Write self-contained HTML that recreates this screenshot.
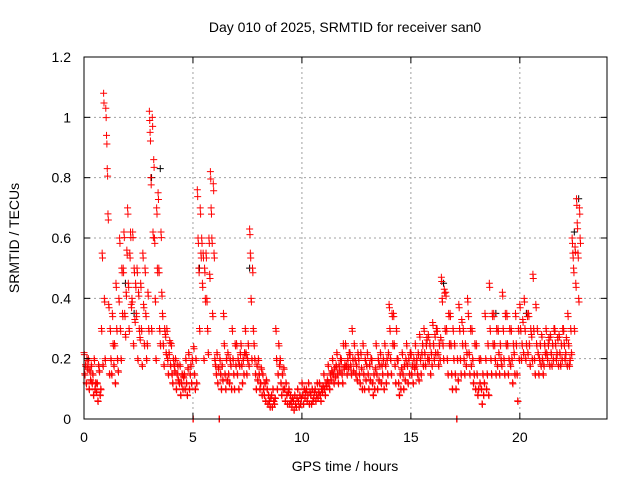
<!DOCTYPE html>
<html><head><meta charset="utf-8"><style>
html,body{margin:0;padding:0;background:#fff;}
svg{display:block;font-family:"Liberation Sans",sans-serif;}
</style></head><body>
<svg id="chart" width="640" height="480" viewBox="0 0 640 480">
<rect width="640" height="480" fill="#fff"/>
<g id="grid"></g>
<g id="points"></g>
<rect x="84" y="57" width="523" height="362" fill="none" stroke="#000" stroke-width="1"/>
<g id="axes"></g>
<text x="345" y="32" font-size="14" text-anchor="middle">Day 010 of 2025, SRMTID for receiver san0</text>
<text x="345" y="471" font-size="14" text-anchor="middle">GPS time / hours</text>
<text x="19" y="238" font-size="14" text-anchor="middle" transform="rotate(-90 19 238)">SRMTID / TECUs</text>
</svg>
<script>
const xTicks=[0,5,10,15,20];
const yTicks=[0,0.2,0.4,0.6,0.8,1,1.2];
const yTickLabels=["0","0.2","0.4","0.6","0.8","1","1.2"];
const binStart=[0.0,0.2,0.4,0.6,0.8,1.0,1.2,1.4,1.6,1.8,2.0,2.2,2.4,2.6,2.8,3.0,3.2,3.4,3.6,3.8,4.0,4.2,4.4,4.6,4.8,5.0,5.2,5.4,5.6,5.8,6.0,6.2,6.4,6.6,6.8,7.0,7.2,7.4,7.6,7.8,8.0,8.2,8.4,8.6,8.8,9.0,9.2,9.4,9.6,9.8,10.0,10.2,10.4,10.6,10.8,11.0,11.2,11.4,11.6,11.8,12.0,12.2,12.4,12.6,12.8,13.0,13.2,13.4,13.6,13.8,14.0,14.2,14.4,14.6,14.8,15.0,15.2,15.4,15.6,15.8,16.0,16.2,16.4,16.6,16.8,17.0,17.2,17.4,17.6,17.8,18.0,18.2,18.4,18.6,18.8,19.0,19.2,19.4,19.6,19.8,20.0,20.2,20.4,20.6,20.8,21.0,21.2,21.4,21.6,21.8,22.0,22.2,22.4,22.6];
const redValues=[
[.22,.15,.18,.12,.2,.17],[.2,.1,.16,.13,.18,.12],[.15,.08,.2,.1,.12,.09],[.12,.06,.18,.16,.08,.1],[.3,.55,.18,1.08,.4,.2],
[1.03,.94,.83,.68,.38,.15],[.3,.2,.15,.35,.25,.18],[.25,.12,.45,.3,.2,.16],[.4,.6,.3,.2,.5,.35],[.5,.62,.35,.28,.42,.56],
[.7,.45,.3,.55,.62,.38],[.4,.62,.25,.5,.33,.45],[.35,.5,.2,.42,.3,.27],[.45,.3,.18,.55,.38,.25],[.5,.35,.2,.25,.42,.3],
[1.02,.95,.8,.3,1.0,.62],[.86,.6,.4,.2,.7,.5],[.75,.5,.3,.25,.62,.42],[.35,.25,.18,.3,.28,.22],[.3,.2,.15,.22,.26,.18],
[.25,.15,.12,.2,.18,.16],[.2,.1,.15,.18,.13,.12],[.18,.08,.12,.15,.1,.14],[.15,.1,.2,.12,.08,.17],[.22,.1,.15,.18,.12,.2],
[0,.24,.15,.1,.2,.12],[.76,.6,.5,.3,.7,.55],[.6,.45,.55,.2,.5,.4],[.55,.4,.3,.22,.6,.48],[.82,.7,.6,.35,.78,.55],
[.2,.18,.15,.22,.12,.17],[0,.2,.15,.1,.18,.13],[.35,.25,.15,.1,.2,.13],[.22,.15,.12,.2,.18,.1],[.3,.2,.15,.1,.25,.18],
[.25,.15,.2,.1,.18,.22],[.25,.18,.12,.2,.15,.22],[.3,.22,.15,.2,.25,.18],[.63,.55,.4,.2,.5,.3],[.25,.2,.15,.1,.18,.13],
[.2,.15,.1,.12,.17,.08],[.15,.1,.08,.12,.06,.13],[.1,.05,.08,.06,.04,.07],[.08,.04,.1,.06,.05,.07],[.3,.2,.1,.15,.25,.18],
[.2,.12,.08,.15,.1,.17],[.1,.06,.12,.08,.05,.09],[.1,.05,.08,.06,.04,.07],[.06,.03,.08,.05,.04,.07],[.1,.06,.04,.08,.05,.07],
[.12,.08,.05,.1,.07,.09],[.1,.06,.08,.12,.05,.09],[.08,.05,.1,.06,.07,.09],[.1,.06,.08,.12,.07,.09],[.12,.08,.06,.1,.09,.11],
[.15,.1,.08,.12,.11,.13],[.18,.12,.1,.15,.13,.16],[.2,.15,.12,.17,.14,.18],[.22,.15,.12,.18,.16,.2],[.2,.15,.12,.25,.17,.18],
[.25,.18,.15,.2,.17,.22],[.22,.18,.15,.3,.2,.16],[.25,.2,.15,.18,.13,.22],[.2,.15,.12,.22,.17,.1],[.25,.15,.1,.2,.13,.18],
[.22,.15,.1,.18,.13,.2],[.2,.12,.08,.15,.1,.17],[.25,.15,.1,.2,.13,.18],[.22,.12,.18,.15,.2,.1],[.25,.18,.12,.2,.15,.22],
[.38,.3,.2,.15,.35,.25],[.35,.25,.18,.12,.3,.2],[.2,.12,.08,.15,.1,.17],[.22,.15,.1,.18,.13,.2],[.25,.18,.12,.2,.15,.22],
[.22,.15,.18,.12,.2,.17],[.25,.18,.2,.15,.22,.13],[.28,.2,.15,.22,.25,.18],[.3,.22,.18,.25,.27,.2],[.28,.2,.25,.15,.22,.18],
[.32,.25,.2,.28,.22,.3],[.3,.22,.18,.25,.2,.27],[.47,.4,.25,.2,.43,.3],[.42,.3,.2,.15,.35,.25],[.35,.25,.15,.1,.3,.2],
[.25,.15,.1,0,.2,.13],[.38,.3,.2,.15,.33,.25],[.3,.2,.15,.25,.18,.22],[.4,.35,.22,.15,.3,.18],[.3,.2,.12,.15,.25,.1],
[.25,.15,.08,.1,.2,.12],[.2,.1,.05,.15,.08,.12],[.35,.2,.1,.15,.25,.08],[.45,.3,.2,.15,.35,.25],[.35,.25,.2,.15,.3,.18],
[.3,.22,.15,.25,.2,.18],[.42,.3,.2,.15,.35,.25],[.35,.25,.15,.2,.3,.18],[.3,.2,.12,.25,.22,.15],[.35,.25,.15,.06,.3,.2],
[.38,.3,.2,.25,.33,.22],[.4,.3,.2,.25,.35,.22],[.35,.25,.18,.3,.28,.2],[.48,.3,.2,.15,.38,.25],[.3,.22,.15,.2,.25,.18],
[.28,.2,.15,.18,.25,.22],[.3,.22,.2,.25,.27,.18],[.28,.22,.18,.25,.2,.3],[.3,.25,.2,.22,.27,.18],[.28,.22,.18,.25,.2,.3],
[.3,.25,.2,.22,.27,.18],[.35,.25,.18,.2,.3,.22],[.6,.55,.5,.3,.57,.45],[.73,.65,.55,.4,.7,.6]];
const blackTimes=[1.9,2.3,3.1,3.5,5.3,7.6,16.5,18.9,20.3,22.5,22.7];
const blackValues=[.45,.35,.8,.83,.5,.5,.45,.35,.35,.62,.73];

const X0=84,X1=607,Y0=419,Y1=57;
const sx=t=>X0+t/24*(X1-X0);
const sy=v=>Y0-v/1.2*(Y0-Y1);
const NS="http://www.w3.org/2000/svg";
function mk(tag,attrs,parent){const e=document.createElementNS(NS,tag);for(const k in attrs)e.setAttribute(k,attrs[k]);parent.appendChild(e);return e;}
const grid=document.getElementById('grid'),axes=document.getElementById('axes'),pts=document.getElementById('points');
xTicks.forEach((t,i)=>{
  const x=sx(t);
  if(i>0){const g=mk('line',{x1:x,x2:x,y1:Y1,y2:Y0,stroke:'#a0a0a0','stroke-dasharray':'2,3'},grid);
  
  }
  mk('line',{x1:x,x2:x,y1:Y0,y2:Y0-6,stroke:'#000'},axes);
  mk('line',{x1:x,x2:x,y1:Y1,y2:Y1+6,stroke:'#000'},axes);
  const tx=mk('text',{x:x,y:Y0+23,'font-size':14,'text-anchor':'middle'},axes);
  tx.textContent=String(t);
  
  
});
yTicks.forEach((v,i)=>{
  const y=sy(v);
  if(i>0&&i<yTicks.length-1){const g=mk('line',{x1:X0,x2:X1,y1:y,y2:y,stroke:'#a0a0a0','stroke-dasharray':'2,3'},grid);
  
  }
  mk('line',{x1:X0,x2:X0+6,y1:y,y2:y,stroke:'#000'},axes);
  mk('line',{x1:X1,x2:X1-6,y1:y,y2:y,stroke:'#000'},axes);
  const tx=mk('text',{x:X0-13,y:y+5,'font-size':14,'text-anchor':'end'},axes);
  tx.textContent=yTickLabels[i];
  
  
});
function cross(t,v,color){
  const x=sx(t),y=sy(v);
  const p=mk('path',{d:`M${x-3.5},${y}h7M${x},${y-3.5}v7`,stroke:color,'stroke-width':1,fill:'none'},pts);
  
  
}
blackTimes.forEach((t,i)=>cross(t,blackValues[i],'#000'));
binStart.forEach((t,i)=>{
  const vals=redValues[i];
  vals.forEach((v,k)=>{
    cross(t+(k/vals.length)*0.2,v,'#f00');
    cross(t+((k+0.5)/vals.length)*0.2,v*0.97,'#f00');
  });
});
</script>
</body></html>
